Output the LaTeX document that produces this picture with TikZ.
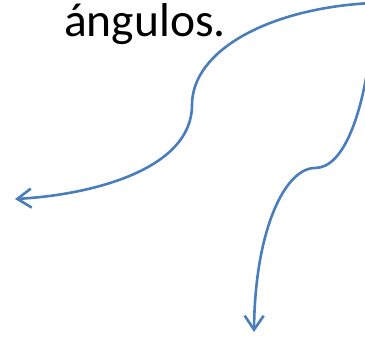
\documentclass[tikz,border=0pt]{standalone}
\usepackage{fontspec}
\setmainfont{Carlito}
\usetikzlibrary{arrows.meta}
\definecolor{azul}{RGB}{74,126,187}
\tikzset{flecha/.style={draw=azul, line width=2.6pt, -{Straight Barb[length=14pt,width=19pt]}}}

\begin{document}
\begin{tikzpicture}[x=1pt, y=-1pt]
\useasboundingbox (0,0) rectangle (365,337);
\node[anchor=base west, inner sep=0pt, font=\fontsize{47.5}{56}\selectfont] (texto) at (64,37) {ángulos.};
\coordinate (inicio1) at (372,3);
\coordinate (inicio2) at (369,60);
\coordinate (izq) at (15,199);
\coordinate (abajo) at (254,332);
% las dos curvas
\draw[flecha] (inicio1) .. controls (270,8) and (192,50) .. (192,105)
  .. controls (192,170) and (90,195) .. (izq);
\draw[flecha] (inicio2) .. controls (362,110) and (345,168) .. (315,168)
  .. controls (285,168) and (255,230) .. (abajo);
\end{tikzpicture}
\end{document}
